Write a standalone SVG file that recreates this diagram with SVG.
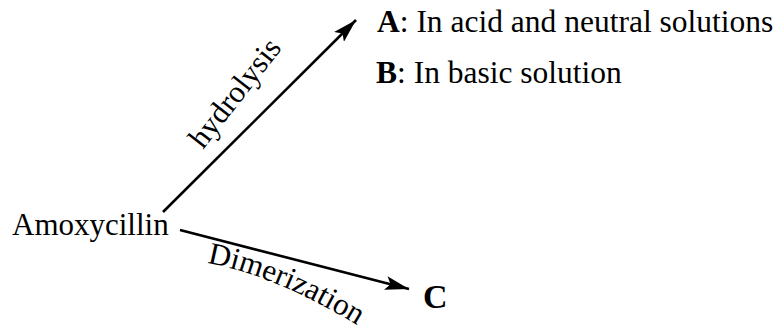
<svg xmlns="http://www.w3.org/2000/svg" width="778" height="333" viewBox="0 0 778 333">
<style>
text{font-family:"Liberation Serif","Times New Roman",serif;fill:#000}
.lbl{font-size:31px}
.big{font-size:31.5px}
.b{font-weight:bold}
.conn{stroke:#000;stroke-width:2.6;fill:none}
</style>
<defs>
<marker id="ah" viewBox="0 0 24 14" refX="24" refY="7" markerWidth="24" markerHeight="14" markerUnits="userSpaceOnUse" orient="auto">
<path d="M0,0 L24,7 L0,14 L5,7 Z" fill="#000"/>
</marker>
<path id="dimpath" d="M207,263 Q275,275 360,327"/>
</defs>
<g id="connectors">
<line class="conn" x1="163" y1="212" x2="356" y2="20" marker-end="url(#ah)"/>
<line class="conn" x1="180" y1="230" x2="409" y2="289" marker-end="url(#ah)"/>
<text class="lbl" transform="translate(203,150) rotate(-52)">hydrolysis</text>
<text class="lbl"><textPath href="#dimpath">Dimerization</textPath></text>
</g>
<g id="amoxycillin"><text class="lbl" x="12" y="235">Amoxycillin</text></g>
<g id="A"><text class="big" x="377" y="32"><tspan class="b">A</tspan>: In acid and neutral solutions</text></g>
<g id="B"><text class="big" x="376" y="83"><tspan class="b">B</tspan>: In basic solution</text></g>
<g id="C"><text class="b" style="font-size:34px" x="423" y="308">C</text></g>
</svg>
